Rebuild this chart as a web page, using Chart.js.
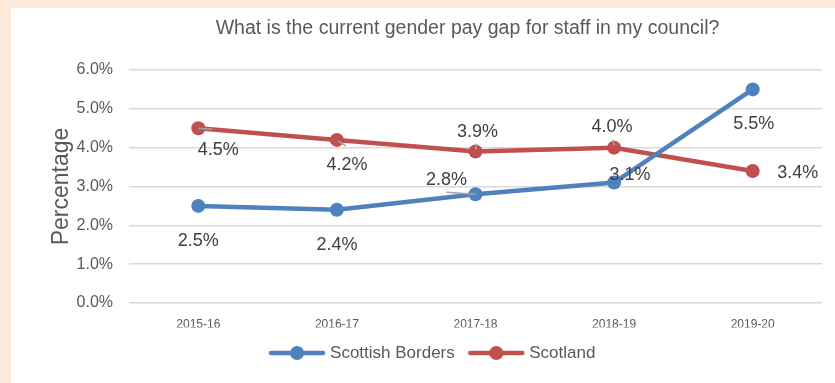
<!DOCTYPE html>
<html>
<head>
<meta charset="utf-8">
<script src="https://cdn.jsdelivr.net/npm/chart.js@4/dist/chart.umd.min.js"></script>
<style>
  html, body { margin: 0; padding: 0; }
  body { width: 835px; height: 383px; background: #fdeadb; position: relative; overflow: hidden; }
  #frame { position: absolute; left: 11px; top: 8px; width: 824px; height: 375px; background: #ffffff; }
  canvas { display: block; }
</style>
</head>
<body>
<div id="frame"><canvas id="chart" width="824" height="375"></canvas></div>
<script>
// Gender pay gap by financial year (%)
const categories = ['2015-16', '2016-17', '2017-18', '2018-19', '2019-20'];
const scottishBorders = [2.5, 2.4, 2.8, 3.1, 5.5];
const scotland = [4.5, 4.2, 3.9, 4.0, 3.4];
const seriesNames = ['Scottish Borders', 'Scotland'];
const yTicks = [0, 1, 2, 3, 4, 5, 6];

const BLUE = '#4f81bd';
const RED = '#c0504d';
const FONT = "'Liberation Sans', Arial, sans-serif";
const AXIS_TEXT = '#595959';

// Per-point label placement relative to each marker (dx, dy in px)
const labelPlacement = [
  [[0, 35], [0, 35], [-29, -14], [16, -8], [1, 35]],
  [[20, 22], [10, 25], [2, -20], [-2, -21], [45, 2]]
];
// Short grey leader lines from the marker toward its label
const leaderLines = [
  [null, null, [-29, -2, 0, 0], null, null],
  [[0, 0, 14, 1], [1, 1, 9, 6], [0, -2, 1, -8], [0, -2, -1, -8], null]
];

// Legend swatch: a line with a round marker in the middle
function makeSwatch(color) {
  const c = document.createElement('canvas');
  c.width = 58; c.height = 16;
  const g = c.getContext('2d');
  g.strokeStyle = color;
  g.lineWidth = 4.5;
  g.lineCap = 'round';
  g.beginPath(); g.moveTo(3, 8); g.lineTo(55, 8); g.stroke();
  g.fillStyle = color;
  g.beginPath(); g.arc(29, 8, 7, 0, Math.PI * 2); g.fill();
  return c;
}
const swatches = [makeSwatch(BLUE), makeSwatch(RED)];

const valueLabels = {
  id: 'valueLabels',
  afterDatasetsDraw(chart) {
    const ctx = chart.ctx;
    ctx.save();
    chart.data.datasets.forEach((ds, di) => {
      const meta = chart.getDatasetMeta(di);
      meta.data.forEach((pt, i) => {
        const ll = leaderLines[di][i];
        if (ll) {
          ctx.strokeStyle = '#a6a6a6';
          ctx.lineWidth = 1.5;
          ctx.beginPath();
          ctx.moveTo(pt.x + ll[0], pt.y + ll[1]);
          ctx.lineTo(pt.x + ll[2], pt.y + ll[3]);
          ctx.stroke();
        }
      });
    });
    ctx.font = '18px ' + FONT;
    ctx.fillStyle = '#404040';
    ctx.textAlign = 'center';
    ctx.textBaseline = 'middle';
    chart.data.datasets.forEach((ds, di) => {
      const meta = chart.getDatasetMeta(di);
      meta.data.forEach((pt, i) => {
        const [dx, dy] = labelPlacement[di][i];
        ctx.fillText(ds.data[i].toFixed(1) + '%', pt.x + dx, pt.y + dy);
      });
    });
    ctx.restore();
  }
};

// Centre the title over the plot the same way the original chart does
const titleCentering = {
  id: 'titleCentering',
  afterLayout(chart) {
    const tb = chart.titleBlock;
    if (tb) {
      const half = (tb.right - tb.left) / 2;
      const cx = 456.5;
      tb.left = cx - half;
      tb.right = cx + half;
    }
  }
};

new Chart(document.getElementById('chart'), {
  type: 'line',
  data: {
    labels: categories,
    datasets: [
      {
        label: seriesNames[0],
        data: scottishBorders,
        borderColor: BLUE,
        backgroundColor: BLUE,
        pointBackgroundColor: BLUE,
        borderWidth: 4.5,
        pointRadius: 7,
        pointBorderWidth: 0,
        tension: 0
      },
      {
        label: seriesNames[1],
        data: scotland,
        borderColor: RED,
        backgroundColor: RED,
        pointBackgroundColor: RED,
        borderWidth: 4.5,
        pointRadius: 7,
        pointBorderWidth: 0,
        tension: 0
      }
    ]
  },
  options: {
    responsive: false,
    animation: false,
    events: [],
    layout: { padding: { left: 35, right: 13, top: 0, bottom: 11.5 } },
    plugins: {
      title: {
        display: true,
        text: 'What is the current gender pay gap for staff in my council?',
        color: AXIS_TEXT,
        font: { family: FONT, size: 19.5, weight: 'normal' },
        padding: { top: 9, bottom: 29.6 },
        fullSize: false
      },
      legend: {
        position: 'bottom',
        sort: (a, b) => a.datasetIndex - b.datasetIndex,
        labels: {
          color: AXIS_TEXT,
          font: { family: FONT, size: 17 },
          usePointStyle: true,
          pointStyleWidth: 49,
          padding: 17,
          generateLabels(chart) {
            return chart.data.datasets.map((ds, i) => ({
              text: ds.label,
              datasetIndex: i,
              pointStyle: swatches[i],
              fillStyle: ds.borderColor,
              strokeStyle: ds.borderColor,
              fontColor: AXIS_TEXT,
              lineWidth: 0,
              hidden: false
            }));
          }
        }
      },
      tooltip: { enabled: false }
    },
    scales: {
      x: {
        offset: true,
        grid: { display: false },
        border: { display: false },
        ticks: {
          color: AXIS_TEXT,
          font: { family: FONT, size: 12 },
          padding: 6,
          maxRotation: 0
        },
        afterFit(scale) { scale.height = 24.5; }
      },
      y: {
        min: 0,
        max: 6,
        afterBuildTicks(scale) { scale.ticks = yTicks.map(v => ({ value: v })); },
        grid: { color: '#d9d9d9', lineWidth: 1.4, drawTicks: false },
        border: { display: false },
        ticks: {
          color: AXIS_TEXT,
          font: { family: FONT, size: 16 },
          padding: 16,
          callback: v => v.toFixed(1) + '%'
        },
        title: {
          display: true,
          text: 'Percentage',
          color: AXIS_TEXT,
          font: { family: FONT, size: 23 },
          padding: { top: 2, bottom: 0 }
        },
        afterFit(scale) { scale.width = 83; }
      }
    }
  },
  plugins: [valueLabels, titleCentering]
});
</script>
</body>
</html>
